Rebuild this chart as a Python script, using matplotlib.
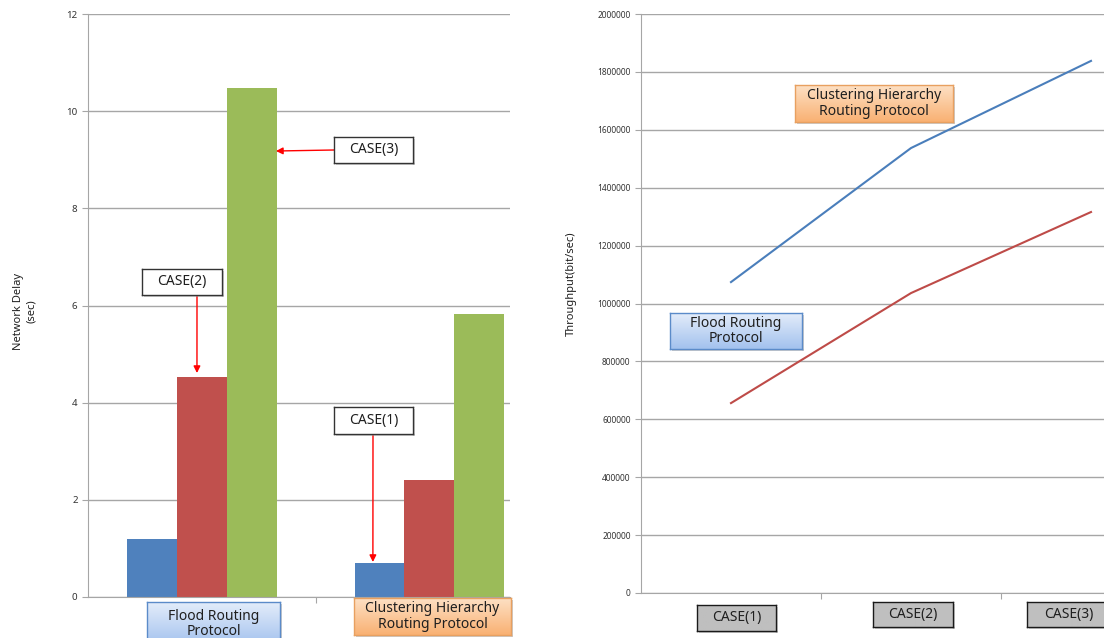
import numpy as np
import matplotlib.pyplot as plt
from matplotlib.patches import Rectangle
from matplotlib.ticker import FuncFormatter
from matplotlib.colors import to_rgb

# left chart: network delay (sec)
groups = ['Flood Routing\nProtocol', 'Clustering Hierarchy\nRouting Protocol']
case1_delay = [1.2, 0.7]
case2_delay = [4.53, 2.41]
case3_delay = [10.47, 5.82]

# right chart: throughput (bit/sec)
cases = ['CASE(1)', 'CASE(2)', 'CASE(3)']
flood_tp = [656000, 1036000, 1316000]
cluster_tp = [1074000, 1537000, 1838000]

W, H = 1104, 638
grid_c = '#A6A6A6'
txt_c = '#1F1F1F'
plt.rcParams['font.family'] = ['Noto Sans', 'DejaVu Sans']

fig = plt.figure(figsize=(W/100, H/100), dpi=100)


def box(x0, y0, x1, y1, text, top, bottom, edge, fs=10, shadow=True):
    # box given in pixels of the picture, measured from the top left
    l, b, w, h = x0/W, 1 - y1/H, (x1 - x0)/W, (y1 - y0)/H
    if shadow:
        fig.add_artist(Rectangle((l + 2/W, b - 2/H), w, h, transform=fig.transFigure,
                                 fc='#999999', ec='none', alpha=0.5, zorder=1))
    bax = fig.add_axes([l, b, w, h])
    bax.set_zorder(2)
    t = np.linspace(0, 1, 50)[:, None, None]
    grad = np.array(to_rgb(top))[None, None, :] * (1 - t) + np.array(to_rgb(bottom))[None, None, :] * t
    bax.imshow(grad, aspect='auto', extent=[0, 1, 0, 1])
    bax.set_xticks([])
    bax.set_yticks([])
    for s in bax.spines.values():
        s.set_color(edge)
        s.set_linewidth(1)
    fig.text((x0 + x1)/2/W, 1 - (y0 + y1)/2/H, text, ha='center', va='center',
             fontsize=fs, color=txt_c, linespacing=1.05, zorder=5)


def style(ax, labelsize):
    ax.yaxis.grid(True, color=grid_c, lw=1)
    ax.set_axisbelow(True)
    for s in ['top', 'right']:
        ax.spines[s].set_visible(False)
    for s in ['left', 'bottom']:
        ax.spines[s].set_color(grid_c)
    ax.tick_params(axis='both', colors=grid_c, labelcolor='#333333', labelsize=labelsize, length=4)


# ---- left: grouped bars
ax1 = fig.add_axes([88/W, 1 - 597/H, 422/W, 583/H])
x = np.arange(len(groups))
w = 0.22
ax1.bar(x - w, case1_delay, w, color='#4F81BD')
ax1.bar(x, case2_delay, w, color='#C0504D')
ax1.bar(x + w, case3_delay, w, color='#9BBB59')
ax1.set_xlim(-0.504, 1.355)
ax1.set_ylim(0, 12)
ax1.set_yticks(range(0, 13, 2))
ax1.set_xticks([0.5])
ax1.set_xticklabels([])
style(ax1, 7)
ax1.set_ylabel('Network Delay\n(sec)', fontsize=8, color=txt_c)
ax1.yaxis.set_label_coords(-0.121, 0.49)

arr_kw = dict(arrowstyle='-|>', color='red', lw=1, mutation_scale=10, shrinkA=0, shrinkB=0)
ax1.annotate('', xy=(0.324, 9.18), xytext=(334, H - 150), textcoords='figure pixels', arrowprops=arr_kw)
ax1.annotate('', xy=(-0.024, 4.61), xytext=(197, H - 295), textcoords='figure pixels', arrowprops=arr_kw)
ax1.annotate('', xy=(0.751, 0.72), xytext=(373, H - 434), textcoords='figure pixels', arrowprops=arr_kw)

box(334, 137, 413, 163, 'CASE(3)', 'white', 'white', '#333333')
box(142, 269, 222, 295, 'CASE(2)', 'white', 'white', '#333333')
box(334, 407, 413, 434, 'CASE(1)', 'white', 'white', '#333333')
box(147, 602, 280, 646, groups[0], '#E3ECFA', '#A3C2EE', '#5B8BC9')
box(354, 598, 511, 635, groups[1], '#FDE0C4', '#F9B173', '#E8A060')

# ---- right: throughput lines
ax2 = fig.add_axes([641/W, 1 - 593/H, 540/W, 579/H])
xc = np.arange(len(cases))
ax2.plot(xc, cluster_tp, color='#4A7EBB', lw=1.5)
ax2.plot(xc, flood_tp, color='#BE4B48', lw=1.5)
ax2.set_xlim(-0.5, 2.5)
ax2.set_ylim(0, 2000000)
ax2.set_yticks(range(0, 2000001, 200000))
ax2.yaxis.set_major_formatter(FuncFormatter(lambda v, p: '%d' % v))
ax2.set_xticks([0.5, 1.5])
ax2.set_xticklabels([])
style(ax2, 6)
ax2.set_ylabel('Throughput(bit/sec)', fontsize=8, color=txt_c)
ax2.yaxis.set_label_coords(-0.119, 0.534)

box(795, 85, 953, 122, 'Clustering Hierarchy\nRouting Protocol', '#FDE0C4', '#F9B173', '#E8A060')
box(670, 313, 802, 349, 'Flood Routing\nProtocol', '#E3ECFA', '#A3C2EE', '#5B8BC9')
box(697, 605, 776, 631, cases[0], '#BFBFBF', '#BFBFBF', '#1A1A1A')
box(873, 602, 953, 627, cases[1], '#BFBFBF', '#BFBFBF', '#1A1A1A')
box(1027, 602, 1110, 627, cases[2], '#BFBFBF', '#BFBFBF', '#1A1A1A')

fig.savefig('out.png', dpi=100)
